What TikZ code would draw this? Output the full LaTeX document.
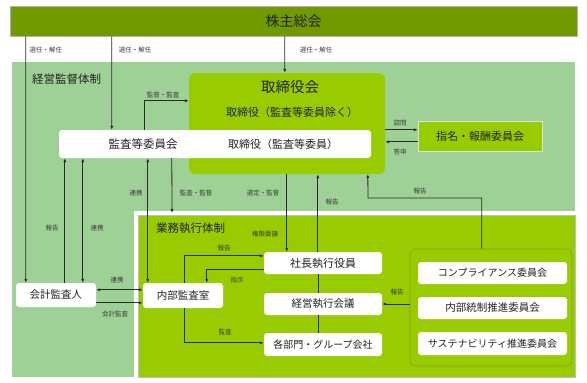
\documentclass[tikz,border=0pt]{standalone}
\usepackage{fontspec}
\setmainfont{Noto Sans CJK JP}
\usetikzlibrary{arrows.meta}
\definecolor{cOlive}{HTML}{6F9B00}
\definecolor{cLight}{HTML}{9ED196}
\definecolor{cLime}{HTML}{99CC00}
\definecolor{cGrpLine}{HTML}{7BA51A}
\definecolor{cTxt}{HTML}{222222}
\definecolor{cLbl}{HTML}{3A3A3A}
\definecolor{cLine}{HTML}{2A2A2A}
\tikzset{
  wbox/.style={fill=white, rounded corners=3pt, inner sep=0pt, text=cTxt,
    font=\fontsize{10.5}{12}\selectfont},
  lbl/.style={inner sep=0pt, text=cLbl, font=\fontsize{6.5}{7}\selectfont},
  ttl/.style={inner sep=0pt, text=cTxt, font=\fontsize{11.5}{13}\selectfont},
  arr/.style={draw=cLine, line width=0.8pt, -{Latex[length=4pt,width=3.2pt]}},
  darr/.style={draw=cLine, line width=0.8pt, {Latex[length=4pt,width=3.2pt]}-{Latex[length=4pt,width=3.2pt]}},
  ln/.style={draw=cLine, line width=0.8pt}
}
\begin{document}
\begin{tikzpicture}[x=1pt,y=-1pt]
\useasboundingbox (0,0) rectangle (587,383);
% regions
\node[fill=cLight, inner sep=0pt, minimum width=563pt, minimum height=315pt] (sup) at (293.5,219.5) {};
\node[fill=white, inner sep=0pt, minimum width=446pt, minimum height=170pt] (execw) at (356.5,296) {};
\node[fill=cLime, draw=black!25, line width=0.4pt, inner sep=0pt, minimum width=437pt, minimum height=162pt] (exec) at (356.5,296) {};
\node[ttl, anchor=west] (supt) at (32,79) {経営監督体制};
\node[ttl, anchor=west] (exect) at (156,228) {業務執行体制};
% general meeting
\node[fill=cOlive, draw=black!30, line width=0.6pt, inner sep=0pt, minimum width=567pt, minimum height=30pt, text=cTxt, font=\fontsize{14}{16}\selectfont] (gm) at (293.5,21) {株主総会};
% board
\node[fill=cLime, rounded corners=6pt, inner sep=0pt, minimum width=196pt, minimum height=101pt] (board) at (287,123.5) {};
\node[inner sep=0pt, text=cTxt, font=\fontsize{14.5}{16}\selectfont] (boardt) at (290,87) {取締役会};
\node[inner sep=0pt, text=cTxt, font=\fontsize{11}{13}\selectfont] (boards) at (292,112) {取締役（監査等委員除く）};
\node[wbox, minimum width=312pt, minimum height=28pt] (bar) at (215,144) {};
\node[inner sep=0pt, text=cTxt, font=\fontsize{11.5}{13}\selectfont] (acm) at (143,144) {監査等委員会};
\node[inner sep=0pt, text=cTxt, font=\fontsize{11}{13}\selectfont] (acd) at (283,144) {取締役（監査等委員）};
% nomination
\node[fill=cLime, draw=black!12, line width=0.4pt, inner sep=0pt, minimum width=124pt, minimum height=30pt, text=cTxt, font=\fontsize{11}{13}\selectfont] (nom) at (480,136) {指名・報酬委員会};
% boxes
\node[wbox, minimum width=80pt, minimum height=24pt] (acct) at (56,295) {会計監査人};
\node[wbox, minimum width=80pt, minimum height=25pt] (naibu) at (183,295.5) {内部監査室};
\node[wbox, minimum width=118pt, minimum height=22pt, font=\fontsize{11}{12}\selectfont] (pres) at (323,263) {社長執行役員};
\node[wbox, minimum width=118pt, minimum height=22pt] (mtg) at (323,304) {経営執行会議};
\node[wbox, minimum width=118pt, minimum height=23pt, font=\fontsize{10}{12}\selectfont] (div) at (323,344.5) {各部門・グループ会社};
% committee group
\node[fill=cLime, draw=cGrpLine, line width=0.6pt, rounded corners=6pt, inner sep=0pt, minimum width=162pt, minimum height=117pt] (grp) at (491,307.5) {};
\node[wbox, minimum width=149pt, minimum height=22pt, font=\fontsize{10}{12}\selectfont] (c1) at (492.5,273) {コンプライアンス委員会};
\node[wbox, minimum width=149pt, minimum height=22pt] (c2) at (492.5,308) {内部統制推進委員会};
\node[wbox, minimum width=149pt, minimum height=23pt, font=\fontsize{10}{12}\selectfont] (c3) at (492.5,343.5) {サステナビリティ推進委員会};
% connectors from general meeting
\draw[arr] ([xshift=16pt]gm.south west) -- ([xshift=10pt]acct.north west);
\draw[arr] ([xshift=102pt]gm.south west) -- ([xshift=53pt]bar.north west);
\draw[arr] ([xshift=275pt]gm.south west) -- ([xshift=96pt]board.north west);
\node[lbl] (l1) at (46,50) {選任・解任};
\node[lbl] (l2) at (135,50) {選任・解任};
\node[lbl] (l3) at (316,50) {選任・解任};
% supervision
\draw[arr] ([xshift=86pt]bar.north west) |- ([yshift=-28pt]board.north west);
\node[lbl] (l4) at (163,95) {監督・監査};
\draw[arr] ([yshift=-57pt]board.north east) -- ([yshift=-9pt]nom.north west);
\draw[arr] ([yshift=-21pt]nom.north west) -- ([yshift=-69pt]board.north east);
\node[lbl] (l5) at (400,123) {諮問};
\node[lbl] (l6) at (400,152) {答申};
% auditor links
\draw[arr] ([xshift=49pt]acct.north west) -- ([xshift=6pt]bar.south west);
\draw[darr] ([xshift=67pt]acct.north west) -- ([xshift=24pt]bar.south west);
\node[lbl] (l7) at (52,228) {報告};
\node[lbl] (l8) at (97,228) {連携};
\draw[darr] ([xshift=89pt]bar.south west) -- ([xshift=5pt]naibu.north west);
\node[lbl] (l9) at (136,193) {連携};
\coordinate (extop) at (172,213);
\draw[arr] ([xshift=113pt]bar.south west) -- (extop);
\node[lbl] (l10) at (196,193) {監査・監督};
\draw[arr] ([xshift=98pt]board.south west) -- ([xshift=23pt]pres.north west);
\node[lbl] (l11) at (263,193) {選定・監督};
\node[lbl] (l12) at (265,234) {権限委譲};
\draw[arr] ([xshift=54pt]pres.north west) -- ([xshift=129pt]board.south west);
\node[lbl] (l13) at (332,202) {報告};
\coordinate (rp) at (368,198);
\draw[arr] ([xshift=72pt]grp.north west) |- (rp) -- ([xshift=179pt]board.south west);
\node[lbl] (l14) at (420,191) {報告};
% auditor - internal audit
\draw[darr] ([yshift=-7pt]acct.north east) -- ([yshift=-7pt]naibu.north west);
\draw[arr] ([yshift=-20pt]acct.north east) -- ([yshift=-20pt]naibu.north west);
\node[lbl] (l15) at (117,280) {連携};
\node[lbl] (l16) at (115,314) {会計監査};
% internal audit - execution
\draw[arr] ([xshift=42pt]naibu.north west) |- ([yshift=-4pt]pres.north west);
\node[lbl] (l17) at (224,248) {報告};
\draw[arr] ([yshift=-18pt]pres.north west) -| ([xshift=64pt]naibu.north west);
\node[lbl] (l18) at (237,280) {指示};
\draw[arr] ([xshift=42pt]naibu.south west) |- ([yshift=-10pt]div.north west);
\node[lbl] (l19) at (225,332) {監査};
\draw[ln] ([xshift=55pt]pres.south west) -- ([xshift=55pt]mtg.north west);
\draw[ln] ([xshift=55pt]mtg.south west) -- ([xshift=55pt]div.north west);
\draw[arr] (grp.west |- mtg.east) -- (mtg.east);
\node[lbl] (l20) at (397,292) {報告};
\end{tikzpicture}
\end{document}
